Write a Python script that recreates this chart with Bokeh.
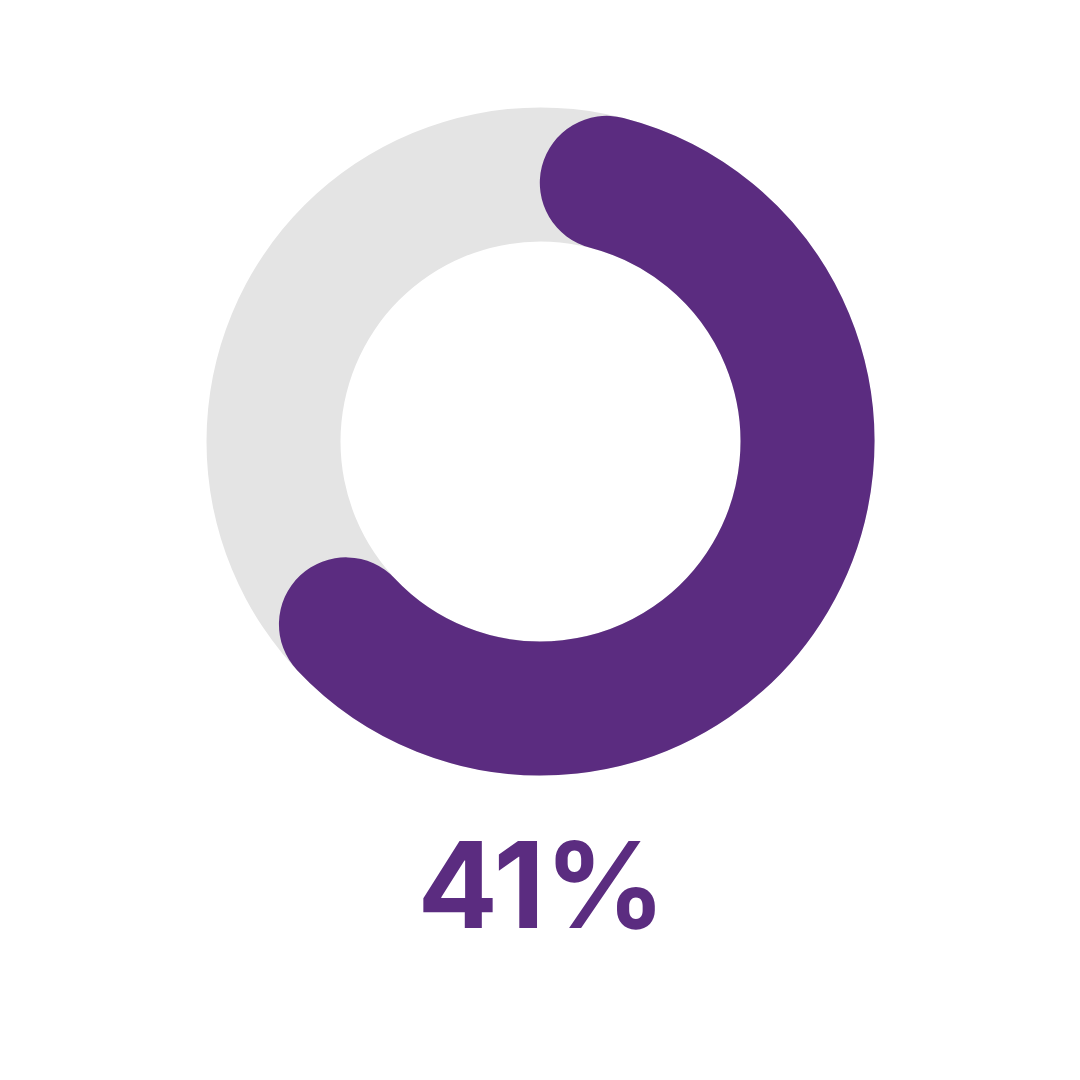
import math
from bokeh.plotting import figure
from bokeh.models import Range1d
from bokeh.core.properties import value
from bokeh.embed import file_html
from bokeh.resources import INLINE

# Data
percent = 41                      # label value
arc_share = [59]                  # share of ring drawn in purple (%)
label = [f"{percent}%"]

PURPLE = "#5B2C80"
GRAY = "#E4E4E4"

W = H = 1064
p = figure(width=W, height=H, output_backend="svg", toolbar_location=None,
           x_range=Range1d(0, W), y_range=Range1d(0, H),
           x_axis_location=None, y_axis_location=None, min_border=0)
p.grid.visible = False
p.outline_line_color = None
p.background_fill_color = "white"

cx, cy = 540, 623
r_in, r_out = 200, 334
r_mid = (r_in + r_out) / 2
band = r_out - r_in

# background ring
p.annulus(x=[cx], y=[cy], inner_radius=r_in, outer_radius=r_out,
          fill_color=GRAY, line_color=None)

# progress arc with round caps
cap = math.degrees((band / 2) / r_mid)
start = 90 - cap
end = start - arc_share[0] / 100 * 360
p.arc(x=[cx], y=[cy], radius=r_mid, start_angle=start, end_angle=end,
      start_angle_units="deg", end_angle_units="deg", direction="clock",
      line_color=PURPLE, line_width=band, line_cap="round")

p.text(x=[cx + 1], y=[1064 - 884], text=label, text_align="center", text_baseline="middle",
       text_font=value("Inter"), text_font_style="bold",
       text_font_size="119px", text_color=PURPLE)

open("out.html", "w").write(file_html(p, INLINE))
